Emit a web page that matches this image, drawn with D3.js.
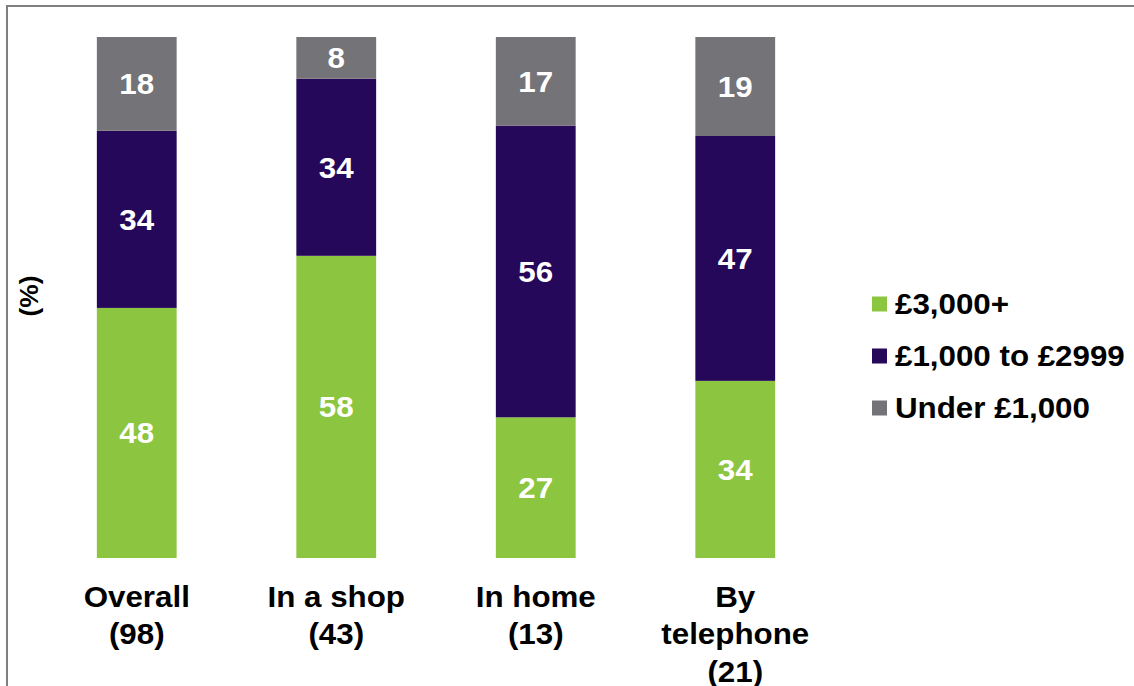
<!DOCTYPE html>
<html>
<head>
<meta charset="utf-8">
<script src="https://cdn.jsdelivr.net/npm/d3@7"></script>
<style>
  html, body { margin: 0; padding: 0; background: #fff; }
  svg { display: block; font-family: "Liberation Sans", Arial, sans-serif; }
</style>
</head>
<body>
<svg id="chart" width="1134" height="686"></svg>
<script>
// Channel categories (label lines) and share of purchases by price band (%)
const categories = ["Overall", "In a shop", "In home", "By telephone"];
const categoryLines = [["Overall", "(98)"], ["In a shop", "(43)"], ["In home", "(13)"], ["By", "telephone", "(21)"]];
const seriesNames = ["£3,000+", "£1,000 to £2999", "Under £1,000"];
const over3000 = [48, 58, 27, 34];
const from1000to2999 = [34, 34, 56, 47];
const under1000 = [18, 8, 17, 19];
const seriesColors = ["#8cc540", "#25085a", "#747378"];

// Type is set slightly wide
const WIDEN = 1.08;

const svg = d3.select("#chart");

// Outer frame (left and top edges visible)
svg.append("path")
  .attr("d", "M7,686 V6 H1134")
  .attr("fill", "none")
  .attr("stroke", "#7f7f7f")
  .attr("stroke-width", 2);

const x = d3.scaleBand().domain(categories).range([37, 835]).paddingInner(0.6).paddingOuter(0.3);
const y = d3.scaleLinear().domain([0, 100]).range([558, 37]);

// Places a widened text group at (px, py)
function wideText(parent, px, py, extra) {
  return parent.append("g")
    .attr("transform", `translate(${px},${py}) ${extra || ""} scale(${WIDEN},1)`)
    .append("text")
    .attr("font-weight", "bold");
}

const rows = categories.map((c, i) => ({
  cat: c,
  [seriesNames[0]]: over3000[i],
  [seriesNames[1]]: from1000to2999[i],
  [seriesNames[2]]: under1000[i]
}));
const stacked = d3.stack().keys(seriesNames)(rows);

const layers = svg.append("g").selectAll("g")
  .data(stacked)
  .join("g")
  .attr("fill", (d, i) => seriesColors[i]);

layers.selectAll("rect")
  .data(d => d)
  .join("rect")
  .attr("x", d => x(d.data.cat))
  .attr("width", x.bandwidth())
  .attr("y", d => y(d[1]))
  .attr("height", d => y(d[0]) - y(d[1]));

// Value labels centred in each segment
const valueLabels = svg.append("g");
stacked.forEach(layer => {
  layer.forEach(s => {
    wideText(valueLabels, x(s.data.cat) + x.bandwidth() / 2, (y(s[0]) + y(s[1])) / 2)
      .attr("dy", "0.36em")
      .attr("text-anchor", "middle")
      .attr("fill", "#fff")
      .attr("font-size", 29)
      .text(s.data[layer.key]);
  });
});

// Category axis labels
const xLabels = svg.append("g");
categories.forEach((c, i) => {
  const t = wideText(xLabels, x(c) + x.bandwidth() / 2, 607)
    .attr("text-anchor", "middle")
    .attr("font-size", 29)
    .attr("fill", "#000");
  categoryLines[i].forEach((line, j) => {
    t.append("tspan")
      .attr("x", 0)
      .attr("dy", j === 0 ? 0 : 37.5)
      .text(line);
  });
});

// Y axis title
svg.append("text")
  .attr("transform", "translate(38,296) rotate(-90) scale(1.05,1)")
  .attr("text-anchor", "middle")
  .attr("font-weight", "bold")
  .attr("font-size", 25)
  .attr("fill", "#000")
  .text("(%)");

// Legend
const legend = svg.append("g");
seriesNames.forEach((name, i) => {
  const ly = 304 + i * 52;
  legend.append("rect")
    .attr("x", 872).attr("y", ly - 7.5)
    .attr("width", 15).attr("height", 15)
    .attr("fill", seriesColors[i]);
  wideText(legend, 895, ly)
    .attr("dy", "0.36em")
    .attr("font-size", 29)
    .attr("fill", "#000")
    .text(name);
});
</script>
</body>
</html>
